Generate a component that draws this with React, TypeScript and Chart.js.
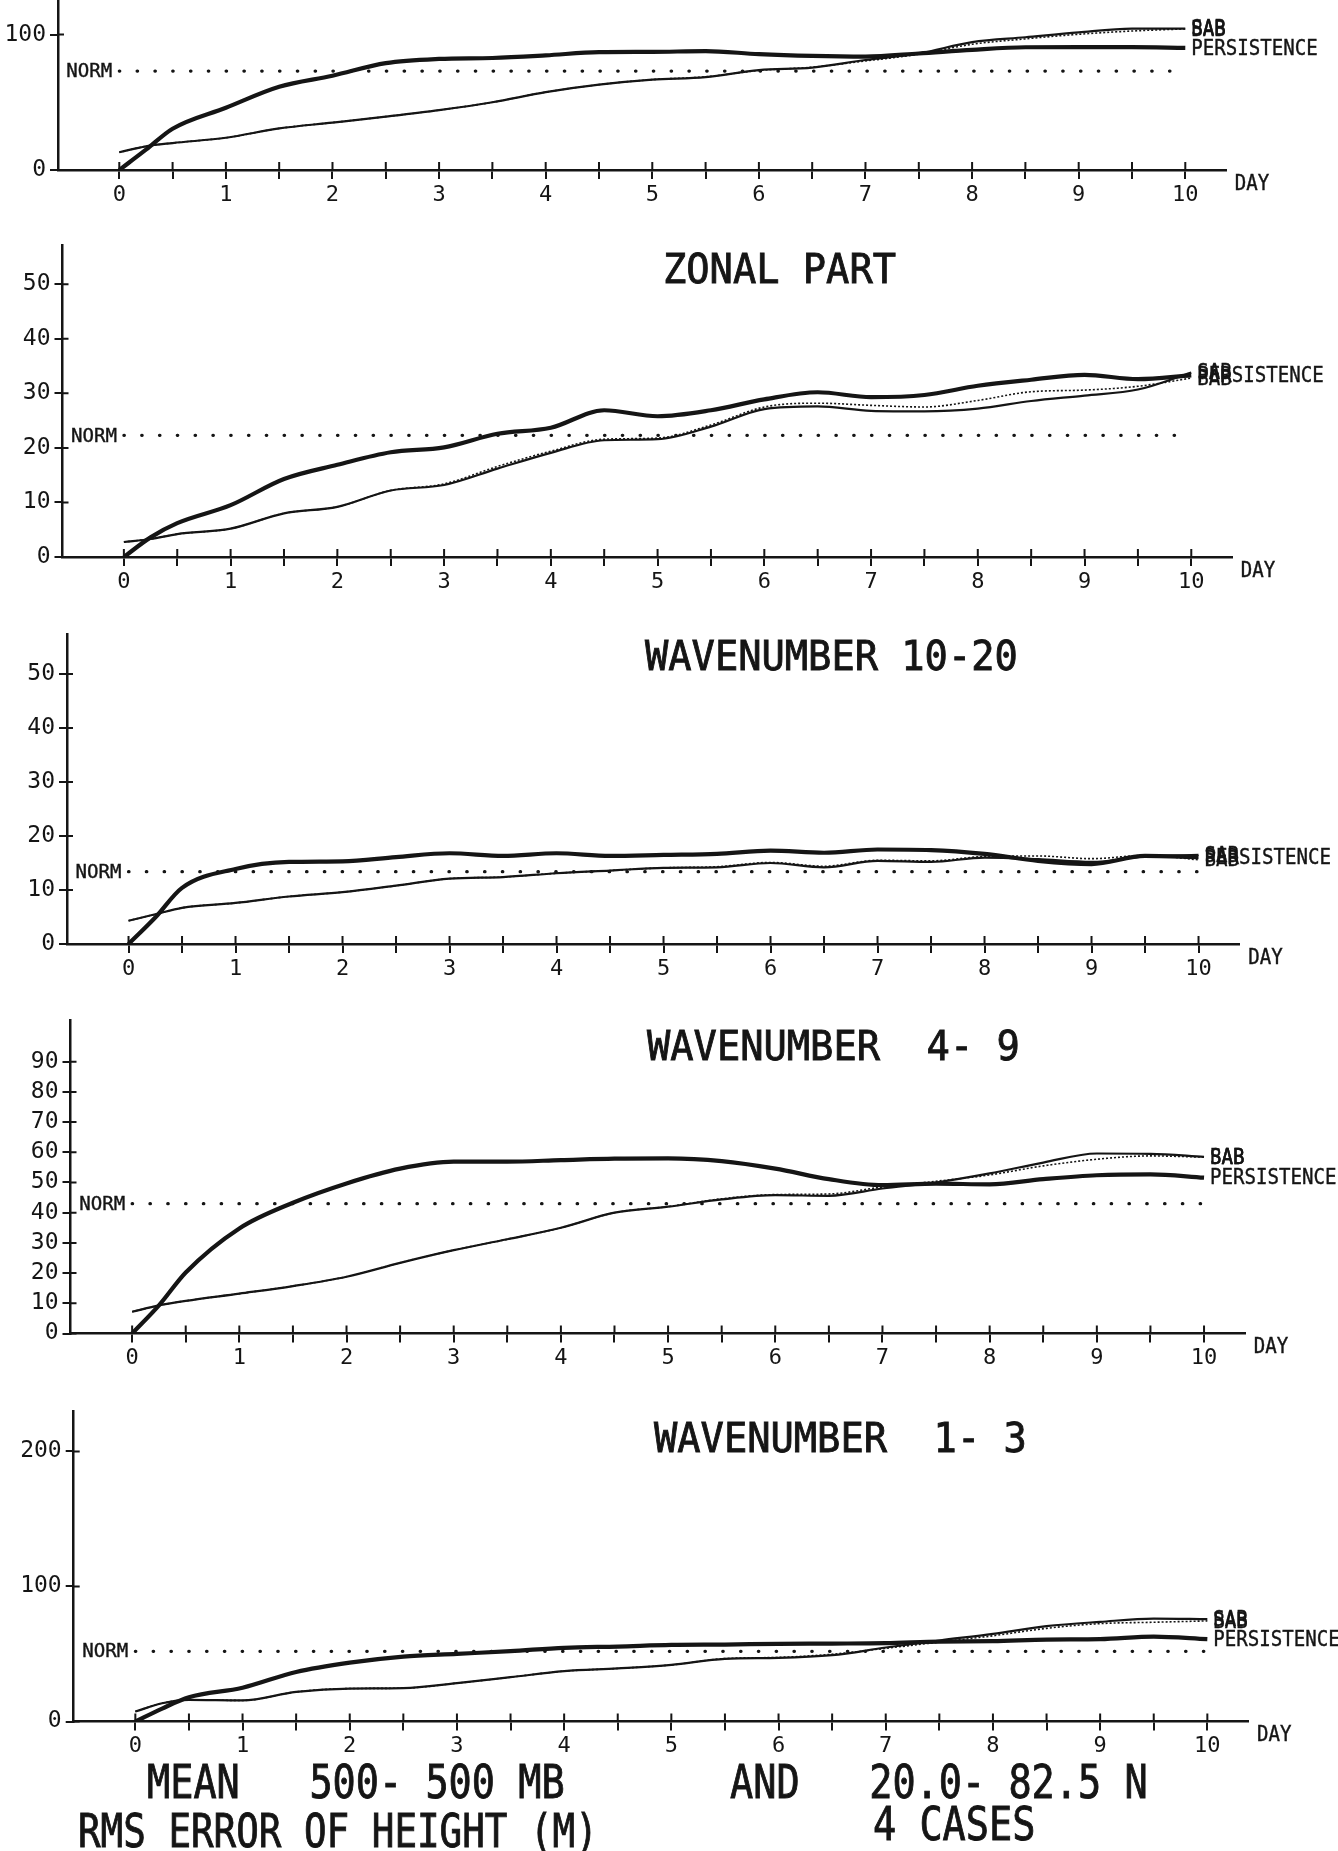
import React, { useEffect, useRef } from "react";
import { Chart, registerables } from "chart.js";

Chart.register(...registerables);

const INK = "#151515";
const FONT = '"DejaVu Sans Mono", "Liberation Mono", monospace';

// forecast days at which every curve was read
const DAYS = [0, 0.25, 0.5, 1, 1.5, 2, 2.5, 3, 3.5, 4, 4.5, 5, 5.5, 6, 6.5, 7, 7.5, 8, 8.5, 9, 9.5, 10];
const X_TICKS = [0, 0.5, 1, 1.5, 2, 2.5, 3, 3.5, 4, 4.5, 5, 5.5, 6, 6.5, 7, 7.5, 8, 8.5, 9, 9.5, 10];
const SERIES_NAMES = ["BAB", "SAB", "PERSISTENCE"];

// Panel 1 (total, title cut off)
const TOTAL_Y_TICKS = [0, 100];
const TOTAL_NORM = 73;
const TOTAL_PERS = [0, 15, 30.5, 46, 61.5, 69.6, 78.9, 82, 82.7, 84.6, 87, 87.2, 87.8, 85.5, 84.2, 83.7, 86, 88.7, 90.6, 90.7, 90.7, 90.1];
const TOTAL_SAB = [13.1, 17.5, 19.9, 23.8, 30.7, 35, 39.4, 44.2, 50, 57.5, 63, 66.7, 68.6, 73.7, 75.6, 81.2, 86, 94.4, 98, 101.6, 104.3, 104.4];
const TOTAL_BAB = [13.1, 17.5, 19.9, 23.8, 30.7, 35, 39.4, 44.2, 50, 57.5, 63, 66.7, 68.8, 73.5, 75.9, 80.5, 85.5, 92.8, 96.8, 100.2, 102.6, 104.2];

// Panel 2 zonal part
const ZONAL_Y_TICKS = [0, 10, 20, 30, 40, 50];
const ZONAL_NORM = 22.3;
const ZONAL_PERS = [0, 3.6, 6.2, 9.5, 14.3, 16.9, 19.2, 20.1, 22.6, 23.7, 26.9, 25.8, 26.9, 28.9, 30.2, 29.3, 29.7, 31.4, 32.5, 33.4, 32.6, 33.3];
const ZONAL_SAB = [2.75, 3.3, 4.2, 5.2, 8, 9.2, 12.2, 13.2, 16.2, 19.1, 21.4, 21.6, 23.9, 27.1, 27.6, 26.8, 26.7, 27.2, 28.6, 29.6, 30.7, 33.8];
const ZONAL_BAB = [2.75, 3.3, 4.2, 5.2, 8, 9.2, 12.2, 13.4, 16.6, 19.4, 21.6, 21.8, 24.2, 27.5, 28.2, 27.8, 27.5, 28.7, 30.3, 30.6, 31.3, 32.8];

// Panel 3 wavenumber 10-20
const W1020_Y_TICKS = [0, 10, 20, 30, 40, 50];
const W1020_NORM = 13.4;
const W1020_PERS = [0, 4.9, 10.4, 13.9, 15.2, 15.3, 16.1, 16.8, 16.3, 16.8, 16.3, 16.5, 16.7, 17.3, 16.9, 17.5, 17.4, 16.7, 15.4, 14.8, 16.3, 16.1];
const W1020_SAB = [4.3, 5.5, 6.7, 7.6, 8.8, 9.6, 10.8, 12.1, 12.4, 13.1, 13.6, 14.1, 14.2, 15, 14.2, 15.4, 15.2, 16, 15.7, 15.2, 16.2, 16.5];
const W1020_BAB = [4.3, 5.5, 6.7, 7.6, 8.8, 9.6, 10.8, 12.1, 12.4, 13.1, 13.6, 14.1, 14.3, 15.1, 14.4, 15.5, 15.4, 16.2, 16.3, 15.8, 16.4, 15.6];

// Panel 4 wavenumber 4-9
const W49_Y_TICKS = [0, 10, 20, 30, 40, 50, 60, 70, 80, 90];
const W49_NORM = 43;
const W49_PERS = [0, 9.3, 20.2, 34.8, 43.3, 49.7, 54.6, 56.9, 56.9, 57.4, 57.9, 58, 57.1, 54.6, 51.1, 49.1, 49.6, 49.4, 51.1, 52.4, 52.7, 51.6];
const W49_SAB = [7.2, 9.3, 10.8, 13.2, 15.7, 18.8, 23.4, 27.6, 31.2, 35, 40, 42, 44.4, 45.8, 45.6, 48, 50, 53, 56.6, 59.6, 59.5, 58.5];
const W49_BAB = [7.2, 9.3, 10.8, 13.2, 15.7, 18.8, 23.4, 27.6, 31.2, 35, 40, 42, 44.6, 46, 46.2, 48.5, 50.4, 52.5, 55.5, 57.7, 58.8, 58.4];

// Panel 5 wavenumber 1-3
const W13_Y_TICKS = [0, 100, 200];
const W13_NORM = 52;
const W13_PERS = [0, 9.6, 18, 25, 36.7, 43.6, 48.1, 50.1, 52.1, 54.6, 55.5, 56.7, 57, 57.5, 57.7, 58, 59.2, 59.5, 60.7, 61, 62.9, 61];
const W13_SAB = [7.4, 13.5, 16, 15.6, 21.9, 24.4, 24.7, 28.4, 32.8, 37.3, 39.3, 41.9, 46.4, 47.1, 49.1, 54.8, 60, 64.9, 70.6, 73.8, 76.2, 75.8];
const W13_BAB = [7.4, 13.5, 16, 15.6, 21.9, 24.4, 24.7, 28.4, 32.8, 37.3, 39.3, 41.9, 46.6, 47.5, 49.8, 54.2, 58.8, 63.5, 69, 72.5, 73.5, 74.5];

const FOOTER = [
  { text: "MEAN   500- 500 MB", x: 147, y: 1798, adv: 23.2 },
  { text: "RMS ERROR OF HEIGHT (M)", x: 78, y: 1847, adv: 22.6 },
  { text: "AND   20.0- 82.5 N", x: 730, y: 1798, adv: 23.2 },
  { text: "4 CASES", x: 873, y: 1840, adv: 23.2 },
];

const X_MIN = -0.575;
const X_MAX = 10.38;
const PAGE_W = 1338;

type PanelCfg = {
  title: string;
  titleX: number;
  titleY: number;
  top: number;
  height: number;
  chartTop: number;
  chartBottom: number;
  axisX: number;
  dayPx: number;
  yMax: number;
  yTicks: number[];
  norm: number;
  bab: number[];
  sab: number[];
  pers: number[];
  footer?: boolean;
};

const PANELS: PanelCfg[] = [
  { title: "", titleX: 0, titleY: 0, top: 0, height: 215, chartTop: 0, chartBottom: 170, axisX: 58, dayPx: 106.6, yMax: 125.5, yTicks: TOTAL_Y_TICKS, norm: TOTAL_NORM, bab: TOTAL_BAB, sab: TOTAL_SAB, pers: TOTAL_PERS },
  { title: "ZONAL PART", titleX: 663, titleY: 283, top: 215, height: 395, chartTop: 245, chartBottom: 557, axisX: 62.5, dayPx: 106.74, yMax: 57.2, yTicks: ZONAL_Y_TICKS, norm: ZONAL_NORM, bab: ZONAL_BAB, sab: ZONAL_SAB, pers: ZONAL_PERS },
  { title: "WAVENUMBER 10-20", titleX: 645, titleY: 670, top: 610, height: 390, chartTop: 634, chartBottom: 944, axisX: 67, dayPx: 107, yMax: 57.4, yTicks: W1020_Y_TICKS, norm: W1020_NORM, bab: W1020_BAB, sab: W1020_SAB, pers: W1020_PERS },
  { title: "WAVENUMBER  4- 9", titleX: 647, titleY: 1060, top: 1000, height: 390, chartTop: 1020, chartBottom: 1333.5, axisX: 70.5, dayPx: 107.19, yMax: 103.8, yTicks: W49_Y_TICKS, norm: W49_NORM, bab: W49_BAB, sab: W49_SAB, pers: W49_PERS },
  { title: "WAVENUMBER  1- 3", titleX: 654, titleY: 1451.7, top: 1390, height: 461, chartTop: 1411.5, chartBottom: 1721.5, axisX: 73.7, dayPx: 107.2, yMax: 229.6, yTicks: W13_Y_TICKS, norm: W13_NORM, bab: W13_BAB, sab: W13_SAB, pers: W13_PERS, footer: true },
];

function drawText(
  ctx: CanvasRenderingContext2D,
  text: string,
  x: number,
  y: number,
  size: number,
  advance: number,
  baseline: CanvasTextBaseline
) {
  ctx.save();
  ctx.font = `${size}px ${FONT}`;
  const w = ctx.measureText("M").width || size * 0.6;
  ctx.translate(x, y);
  ctx.scale(advance / w, 1);
  ctx.textAlign = "left";
  ctx.textBaseline = baseline;
  ctx.fillStyle = INK;
  ctx.strokeStyle = INK;
  ctx.lineWidth = size > 30 ? 0.9 : 0.4;
  ctx.fillText(text, 0, 0);
  ctx.strokeText(text, 0, 0);
  ctx.restore();
}

function Panel({ cfg }: { cfg: PanelCfg }) {
  const ref = useRef<HTMLCanvasElement | null>(null);

  useEffect(() => {
    const canvas = ref.current;
    if (!canvas) return;
    const chartRight = cfg.axisX + (X_MAX - X_MIN) * cfg.dayPx;
    const xAxisHeight = cfg.top + cfg.height - cfg.chartBottom;
    const toPts = (vals: number[]) => DAYS.map((d, i) => ({ x: d, y: vals[i] }));
    const seriesVals = [cfg.bab, cfg.sab, cfg.pers];

    const decor = {
      id: "decor",
      afterDraw(chart: any) {
        const { ctx, chartArea, scales } = chart;
        const xs = scales.x;
        const ys = scales.y;
        ctx.save();
        ctx.strokeStyle = INK;
        ctx.lineWidth = 2;
        ctx.beginPath();
        for (const t of xs.ticks) {
          const px = xs.getPixelForValue(t.value);
          ctx.moveTo(px, chartArea.bottom - 8);
          ctx.lineTo(px, chartArea.bottom);
        }
        for (const t of ys.ticks) {
          const py = ys.getPixelForValue(t.value);
          ctx.moveTo(chartArea.left, py);
          ctx.lineTo(chartArea.left + 6, py);
        }
        ctx.stroke();
        ctx.restore();

        const ny = ys.getPixelForValue(cfg.norm);
        const nx = xs.getPixelForValue(0) - 7;
        drawText(ctx, "NORM", nx - 4 * 11.5, ny + 1, 20, 11.5, "middle");
        drawText(ctx, "DAY", chartArea.right + 9, chartArea.bottom + 4, 21, 11.5, "top");

        const endX = xs.getPixelForValue(10) + 6;
        SERIES_NAMES.forEach((name, i) => {
          const vals = seriesVals[i];
          const py = ys.getPixelForValue(vals[vals.length - 1]);
          drawText(ctx, name, endX, py + 1, 22, 11.5, "middle");
        });

        if (cfg.title) {
          drawText(ctx, cfg.title, cfg.titleX, cfg.titleY - cfg.top, 41, 23.3, "alphabetic");
        }
        if (cfg.footer) {
          FOOTER.forEach((f) => drawText(ctx, f.text, f.x, f.y - cfg.top, 46, f.adv, "alphabetic"));
        }
      },
    };

    const chart = new Chart(canvas, {
      type: "line",
      data: {
        datasets: [
          {
            label: "NORM",
            data: [{ x: 0, y: cfg.norm }, { x: 10, y: cfg.norm }],
            borderColor: INK,
            borderWidth: 3.2,
            borderDash: [0.5, 17.3],
            borderCapStyle: "round",
            pointRadius: 0,
          },
          {
            label: SERIES_NAMES[0],
            data: toPts(cfg.bab),
            borderColor: INK,
            borderWidth: 1.6,
            borderDash: [2, 2],
            pointRadius: 0,
            cubicInterpolationMode: "monotone",
          },
          {
            label: SERIES_NAMES[1],
            data: toPts(cfg.sab),
            borderColor: INK,
            borderWidth: 2.2,
            pointRadius: 0,
            cubicInterpolationMode: "monotone",
          },
          {
            label: SERIES_NAMES[2],
            data: toPts(cfg.pers),
            borderColor: INK,
            borderWidth: 4.2,
            pointRadius: 0,
            cubicInterpolationMode: "monotone",
          },
        ],
      } as any,
      options: {
        responsive: false,
        maintainAspectRatio: false,
        animation: false,
        devicePixelRatio: 1,
        events: [],
        layout: {
          autoPadding: false,
          padding: { left: 0, top: cfg.chartTop - cfg.top, right: PAGE_W - chartRight, bottom: 0 },
        },
        plugins: {
          legend: { display: false },
          tooltip: { enabled: false },
          title: { display: false },
        },
        scales: {
          x: {
            type: "linear",
            min: X_MIN,
            max: X_MAX,
            afterBuildTicks: (s: any) => {
              s.ticks = X_TICKS.map((v) => ({ value: v }));
            },
            afterFit: (s: any) => {
              s.height = xAxisHeight;
              s.paddingLeft = 0;
              s.paddingRight = 0;
            },
            ticks: {
              autoSkip: false,
              maxRotation: 0,
              padding: 3,
              color: INK,
              font: { family: FONT, size: 22 },
              callback: (v: any) => (Number.isInteger(Number(v)) ? String(v) : ""),
            },
            grid: { display: true, drawOnChartArea: false, drawTicks: true, tickLength: 9, color: INK, lineWidth: 2 },
            border: { display: true, color: INK, width: 2.5 },
          },
          y: {
            type: "linear",
            min: 0,
            max: cfg.yMax,
            afterBuildTicks: (s: any) => {
              s.ticks = cfg.yTicks.map((v) => ({ value: v }));
            },
            afterFit: (s: any) => {
              s.width = cfg.axisX;
              s.paddingTop = 0;
              s.paddingBottom = 0;
            },
            ticks: { padding: 4, color: INK, font: { family: FONT, size: 23 } },
            grid: { display: true, drawOnChartArea: false, drawTicks: true, tickLength: 8, color: INK, lineWidth: 2 },
            border: { display: true, color: INK, width: 2.5 },
          },
        },
      } as any,
      plugins: [decor],
    });
    return () => chart.destroy();
  }, [cfg]);

  return (
    <canvas
      ref={ref}
      width={PAGE_W}
      height={cfg.height}
      style={{ position: "absolute", left: 0, top: cfg.top, width: PAGE_W, height: cfg.height, display: "block" }}
    />
  );
}

export default function App() {
  return (
    <div style={{ position: "absolute", left: 0, top: 0, width: PAGE_W, height: 1851, background: "#fff", overflow: "hidden" }}>
      {PANELS.map((p, i) => (
        <Panel key={i} cfg={p} />
      ))}
    </div>
  );
}
